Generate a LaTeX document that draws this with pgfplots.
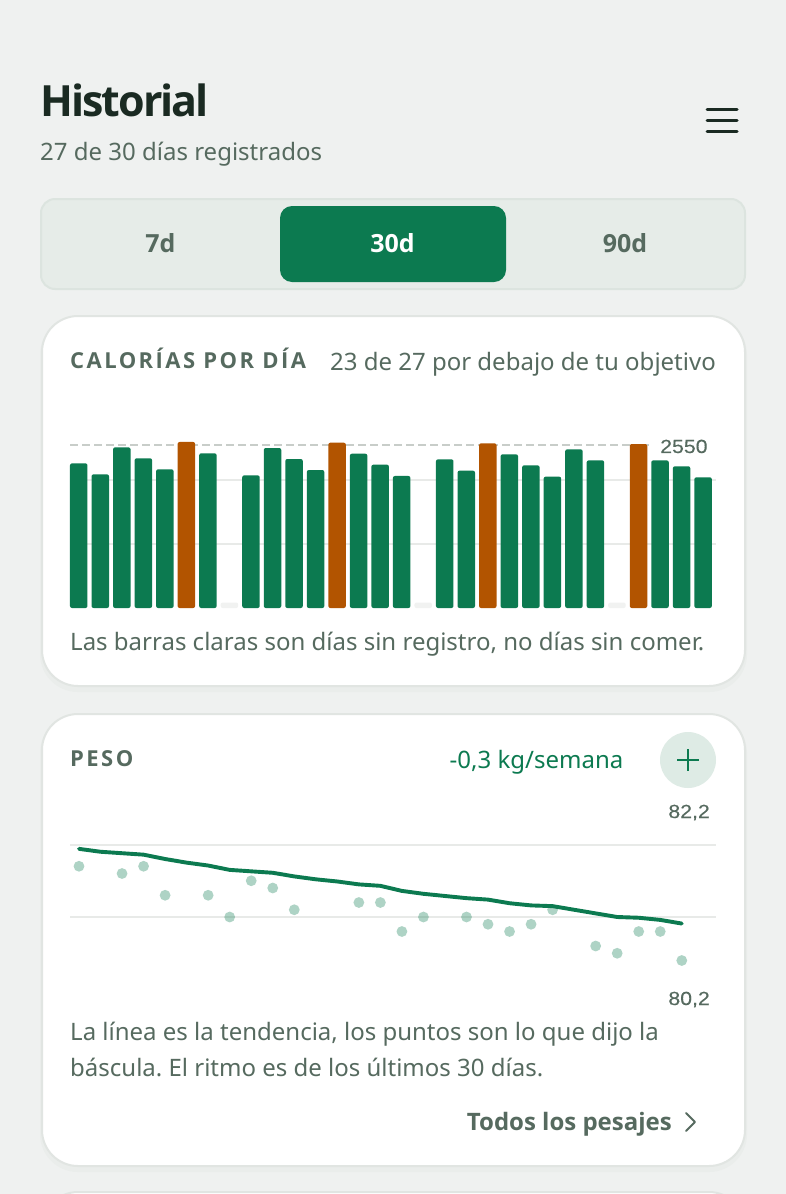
\documentclass[border=0pt]{standalone}
\usepackage{fontspec}
\usepackage{pgfplots}
\pgfplotsset{compat=1.18}
\usepackage{pgfplotstable}
\setmainfont{Noto Sans}
\newfontfamily\numfont[FakeStretch=1.12,FakeBold=0.25]{Liberation Sans}
\newfontfamily\boldf{Open Sans}
\newfontfamily\titlef[LetterSpace=-4.6]{Open Sans}
\newfontfamily\capsfont[LetterSpace=11.2]{Open Sans}
\definecolor{bg}{HTML}{EFF1F0}
\definecolor{ink}{HTML}{1A2A22}
\definecolor{mut}{HTML}{566A5F}
\definecolor{grn}{HTML}{0C7A50}
\definecolor{org}{HTML}{B25400}
\definecolor{tabbg}{HTML}{E6ECE8}
\definecolor{tabln}{HTML}{DCE4DF}
\definecolor{cardln}{HTML}{E1E5E2}
\definecolor{shadowc}{HTML}{EAEDEB}
\definecolor{gridc}{HTML}{E8EAE8}
\definecolor{dashc}{HTML}{C8CDC9}
\definecolor{stub}{HTML}{F1F2F1}
\definecolor{plusbg}{HTML}{DEEBE5}
\pgfplotstableread{
d v
0 2260
1 2088
2 2510
3 2339
4 2167
6 2417
8 2073
9 2500
10 2328
11 2156
13 2411
14 2240
15 2063
17 2323
18 2146
20 2401
21 2229
22 2052
23 2479
24 2307
27 2307
28 2214
29 2042
}\underbars
\pgfplotstableread{
d v
5 2594
12 2583
19 2573
26 2562
}\overbars
\pgfplotstableread{
d v
7 85
16 85
25 85
}\emptybars
\pgfplotstableread{
d v
0 81.7
2 81.6
3 81.7
4 81.3
6 81.3
7 81.0
8 81.5
9 81.4
10 81.1
13 81.2
14 81.2
15 80.8
16 81.0
18 81.0
19 80.9
20 80.8
21 80.9
22 81.1
24 80.6
25 80.5
26 80.8
27 80.8
28 80.4
}\scaledots
\pgfplotstableread{
d v
0 81.94
1 81.90
2 81.88
3 81.86
4 81.80
5 81.75
6 81.71
7 81.65
8 81.63
9 81.61
10 81.56
11 81.52
12 81.49
13 81.45
14 81.43
15 81.36
16 81.32
17 81.29
18 81.26
19 81.24
20 81.19
21 81.16
22 81.15
23 81.10
24 81.05
25 81.00
26 80.99
27 80.96
28 80.91
}\trend
\pgfplotsset{ui/.style={
  scale only axis, width=646pt,
  axis line style={draw=none}, tick style={draw=none},
  xtick=\empty, yticklabels={},
  ymajorgrids, grid style={gridc,line width=2pt},
  clip=false}}
\newcommand{\fs}[1]{\fontsize{#1}{#1}\selectfont}
\frenchspacing
\begin{document}
\begin{tikzpicture}[x=1pt,y=-1pt]
\path[use as bounding box,fill=bg] (0,0) rectangle (786,1194);
% header
\node[anchor=base west,inner sep=0,text=ink] at (40,116) {\fs{43}\titlef\bfseries Historial};
\node[anchor=base west,inner sep=0,text=mut] at (40,160) {\fs{24}27 de 30 días registrados};
\draw[ink,line width=3pt,line cap=round] (707,109)--(737,109) (707,120)--(737,120) (707,131)--(737,131);
% tabs
\draw[fill=tabbg,draw=tabln,line width=2pt,rounded corners=14pt] (41,199) rectangle (745,289);
\fill[grn,rounded corners=12pt] (280,206) rectangle (506,282);
\node[anchor=base,inner sep=0,text=mut] at (160.5,252) {\fs{25}\boldf\bfseries 7d};
\node[anchor=base,inner sep=0,text=white] at (392.5,252) {\fs{25}\boldf\bfseries 30d};
\node[anchor=base,inner sep=0,text=mut] at (625,252) {\fs{25}\boldf\bfseries 90d};
% cards
\fill[shadowc,rounded corners=38pt] (40,317) rectangle (747,692);
\fill[shadowc,rounded corners=38pt] (40,715) rectangle (747,1172);
\draw[fill=white,draw=cardln,line width=2pt,rounded corners=36pt] (42,316) rectangle (745,686);
\draw[fill=white,draw=cardln,line width=2pt,rounded corners=36pt] (42,714) rectangle (745,1166);
\draw[fill=white,draw=cardln,line width=2pt,rounded corners=36pt] (42,1192) rectangle (745,1300);
% card 1
\node[anchor=base west,inner sep=0,text=mut] at (70,368) {\fs{22}\capsfont\bfseries CALORÍAS POR DÍA};
\node[anchor=base east,inner sep=0,text=mut] at (716,370) {\fs{24}23 de 27 por debajo de tu objetivo};
\begin{axis}[ui, at={(70pt,-608pt)}, height=178pt,
  xmin=-0.4064, xmax=29.6, ymin=0, ymax=2781.25, ytick={1000,2000}]
\addplot[dashc,line width=2.2pt,dash pattern=on 8pt off 4pt] coordinates {(-0.4064,2550) (26.5,2550)};
\addplot[ybar,bar width=17.5pt,bar shift=0pt,fill=stub,draw=none,rounded corners=2pt] table[x=d,y=v] {\emptybars};
\addplot[ybar,bar width=17.5pt,bar shift=0pt,fill=grn,draw=none,rounded corners=2pt] table[x=d,y=v] {\underbars};
\addplot[ybar,bar width=17.5pt,bar shift=0pt,fill=org,draw=none,rounded corners=2pt] table[x=d,y=v] {\overbars};
\node[anchor=base west,inner sep=3pt,fill=white,text=mut] at (axis cs:26.86,2422) {\fs{19}\numfont 2550};
\end{axis}
\node[anchor=base west,inner sep=0,text=mut] at (70,650) {\fs{24}Las barras claras son días sin registro, no días sin comer.};
% card 2
\node[anchor=base west,inner sep=0,text=mut] at (70,766) {\fs{22}\capsfont\bfseries PESO};
\node[anchor=base east,inner sep=0,text=grn] at (623.5,768) {\fs{24}-0,3 kg/semana};
\fill[plusbg] (688,760) circle (28);
\draw[grn,line width=2pt] (677,760)--(699,760) (688,749)--(688,771);
\node[anchor=base east,inner sep=0,text=mut] at (710,818) {\fs{19}\numfont 82,2};
\begin{axis}[ui, at={(70pt,-975pt)}, height=145pt,
  xmin=-0.418, xmax=29.59, ymin=80.2, ymax=82.2, ytick={81,82}]
\addplot[only marks,mark=*,mark size=5.4pt,mark options={fill=grn,draw opacity=0,fill opacity=0.33}] table[x=d,y=v] {\scaledots};
\addplot[grn,line width=3.9pt,line cap=round,line join=round] table[x=d,y=v] {\trend};
\end{axis}
\node[anchor=base east,inner sep=0,text=mut] at (710,1005) {\fs{19}\numfont 80,2};
\node[anchor=base west,inner sep=0,text=mut] at (70,1040) {\fs{24}La línea es la tendencia, los puntos son lo que dijo la};
\node[anchor=base west,inner sep=0,text=mut] at (70,1076) {\fs{24}báscula. El ritmo es de los últimos 30 días.};
\node[anchor=base east,inner sep=0,text=mut] at (672,1130) {\fs{24}\boldf\bfseries Todos los pesajes};
\draw[mut,line width=2pt,line cap=round,line join=round] (686,1113)--(695,1122)--(686,1131);
\end{tikzpicture}
\end{document}
